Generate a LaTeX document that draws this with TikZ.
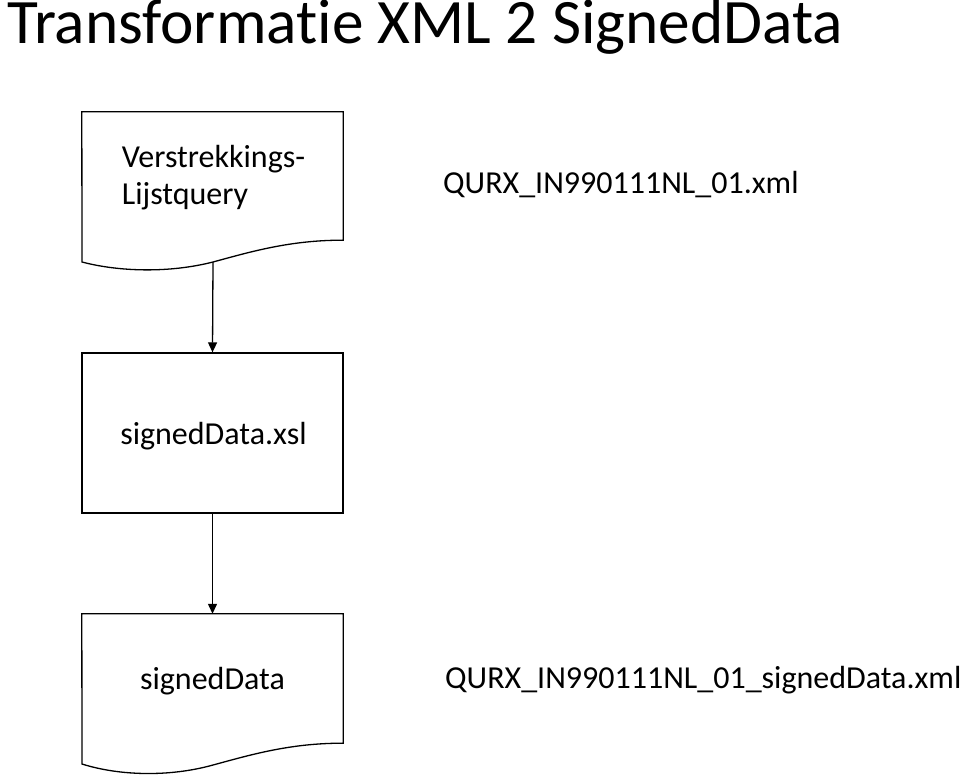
\documentclass[tikz,border=0pt]{standalone}
\usepackage{fontspec}
\setmainfont[Ligatures=NoCommon]{Carlito}
\usetikzlibrary{positioning,arrows.meta}

\tikzset{
  label text/.style={font=\fontsize{32}{37}\selectfont, inner sep=0pt},
  box/.style={minimum width=261pt, minimum height=128pt, inner sep=0pt},
  outline/.style={draw=black, line width=1.3pt},
  flow/.style={-{Triangle[length=10pt,width=9pt]}, line width=1.3pt}
}

\begin{document}
\begin{tikzpicture}[x=1pt,y=-1pt]

\useasboundingbox (0,0) rectangle (960,776);

% title
\node [anchor=base west, inner sep=0pt, font=\fontsize{63.3}{70}\selectfont] (title) at (7,44) {Transformatie XML 2 SignedData};

% document 1
\node [box] (query) at (212.5,176) {};
\draw [outline] (query.north west) -- (query.north east) -- (query.south east)
  .. controls (290,240) and (250,252) .. (213,262)
  .. controls (170,273) and (120,272) .. (82,262) -- cycle;
\coordinate (query-out) at (213,262);
\node [label text, align=left] (query-text) at (213.5,178) {Verstrekkings-\\Lijstquery};
\node [label text, anchor=base west] (query-file) at (443,193) {QURX\_IN990111NL\_01.xml};

% stylesheet
\node [box, outline, minimum height=160pt] (xsl) at (212.5,433) {};
\node [label text, anchor=base] (xsl-text) at (213.5,444) {signedData.xsl};

% document 2
\node [box, minimum height=129pt] (signed) at (212.5,678.5) {};
\draw [outline] (signed.north west) -- (signed.north east) -- (signed.south east)
  .. controls (290,743) and (250,755) .. (213,765)
  .. controls (170,777) and (120,776) .. (82,764) -- cycle;
\node [label text, anchor=base] (signed-text) at (212.5,689) {signedData};
\node [label text, anchor=base west] (signed-file) at (445,688) {QURX\_IN990111NL\_01\_signedData.xml};

% arrows
\draw [flow] (query-out) -- (xsl.north);
\draw [flow] (xsl.south) -- (signed.north);

\end{tikzpicture}
\end{document}
